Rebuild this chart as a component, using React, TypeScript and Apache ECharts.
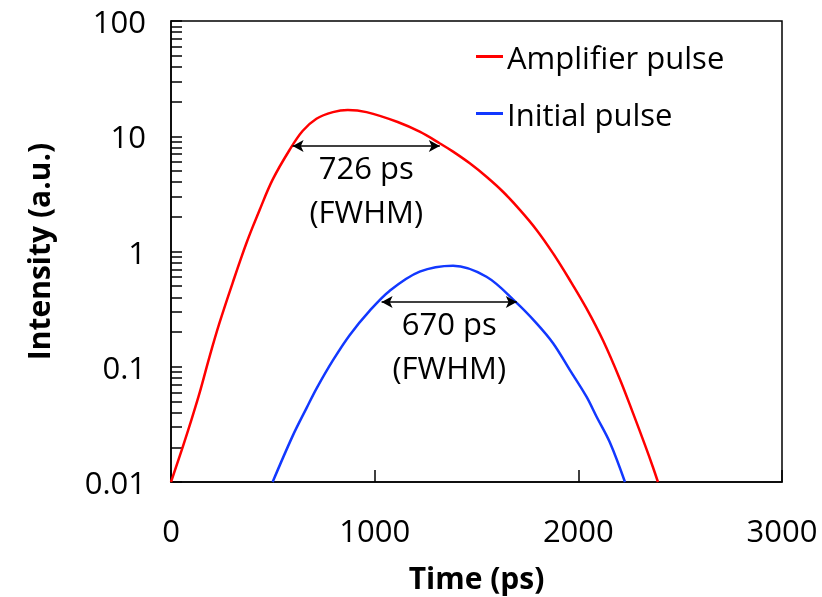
import React, { useEffect, useRef } from "react";
import * as echarts from "echarts";

const ampTime = [0, 57, 101, 140, 189, 238, 302, 371, 435, 499, 582, 646, 714, 795, 868, 960, 1113, 1221, 1319, 1385, 1467, 1549, 1630, 1713, 1795, 1876, 1958, 2040, 2122, 2204, 2269, 2327, 2366, 2391];
const ampIntensity = [0.01, 0.02, 0.035, 0.059, 0.122, 0.24, 0.53, 1.19, 2.29, 4.2, 7.6, 11.1, 14.2, 16.2, 16.9, 16.2, 13.3, 10.95, 8.7, 7.35, 5.82, 4.45, 3.3, 2.3, 1.54, 0.964, 0.566, 0.321, 0.168, 0.078, 0.0394, 0.021, 0.0135, 0.01];

const initTime = [499, 597, 666, 715, 794, 877, 975, 1073, 1221, 1385, 1549, 1696, 1795, 1876, 1958, 2040, 2089, 2155, 2229];
const initIntensity = [0.01, 0.025, 0.044, 0.065, 0.113, 0.188, 0.305, 0.455, 0.668, 0.753, 0.604, 0.36, 0.238, 0.16, 0.094, 0.055, 0.037, 0.022, 0.01];

const seriesNames = ["Amplifier pulse", "Initial pulse"];
const ampFwhm = { start: 597, end: 1320, level: 8.25, label: "726 ps\n(FWHM)" };
const initFwhm = { start: 1034, end: 1698, level: 0.365, label: "670 ps\n(FWHM)" };

const yDecades = [0.01, 0.1, 1, 10, 100];
const yMultipliers = [1, 2, 3, 4, 5, 6, 7, 8, 9];
const xTicks = { min: 0, max: 3000, interval: 1000 };

const FONT = "'Open Sans', sans-serif";
const RED = "#FF0000";
const BLUE = "#1238FF";

function zip(xs: number[], ys: number[]) {
  return xs.map((x, i) => [x, ys[i]]);
}

function fwhmLine(f: { start: number; end: number; level: number; label: string }) {
  return {
    silent: true,
    animation: false,
    symbol: ["arrow", "arrow"],
    symbolSize: [9, 11],
    lineStyle: { color: "#000", width: 1.5, type: "solid" },
    label: {
      show: true,
      position: "insideMiddleBottom",
      formatter: f.label,
      fontFamily: FONT,
      fontSize: 31,
      lineHeight: 44,
      color: "#000",
      distance: -1,
    },
    emphasis: { disabled: true },
    data: [[{ coord: [f.start, f.level] }, { coord: [f.end, f.level] }]],
  };
}

export default function App() {
  const ref = useRef<HTMLDivElement>(null);
  useEffect(() => {
    if (!ref.current) return;
    const chart = echarts.init(ref.current, undefined, { renderer: "svg" });
    const minorTicks: number[] = [];
    yDecades.forEach((d, i) => {
      if (i === yDecades.length - 1) {
        minorTicks.push(d);
      } else {
        yMultipliers.forEach((m) => minorTicks.push(+(d * m).toPrecision(3)));
      }
    });
    chart.setOption({
      animation: false,
      textStyle: { fontFamily: FONT },
      grid: {
        left: 171,
        top: 21,
        width: 611,
        height: 461,
        show: true,
        borderColor: "#000",
        borderWidth: 1.5,
        backgroundColor: "transparent",
        containLabel: false,
        outerBoundsMode: "none",
      },
      legend: {
        orient: "vertical",
        left: 471,
        top: 36,
        itemWidth: 27,
        itemHeight: 3,
        itemGap: 26,
        icon: "rect",
        data: seriesNames,
        textStyle: { fontFamily: FONT, fontSize: 31, color: "#000", padding: [0, 0, 0, -1] },
        selectedMode: false,
      },
      xAxis: {
        type: "value",
        min: xTicks.min,
        max: xTicks.max,
        interval: xTicks.interval,
        name: "Time (ps)",
        nameLocation: "middle",
        nameGap: 80,
        nameTextStyle: { fontFamily: FONT, fontSize: 30, fontWeight: "bold", color: "#000" },
        axisLine: { show: true, lineStyle: { color: "#000", width: 1.5 } },
        axisTick: { show: true, inside: true, length: 12, lineStyle: { color: "#000", width: 1.5 } },
        axisLabel: {
          fontFamily: FONT,
          fontSize: 31,
          color: "#000",
          margin: 32,
          formatter: (v: number) => String(v),
        },
        splitLine: { show: false },
      },
      yAxis: {
        type: "log",
        logBase: 10,
        min: yDecades[0],
        max: yDecades[yDecades.length - 1],
        name: "Intensity (a.u.)",
        nameLocation: "middle",
        nameGap: 118,
        nameTextStyle: { fontFamily: FONT, fontSize: 30, fontWeight: "bold", color: "#000" },
        axisLine: { show: true, lineStyle: { color: "#000", width: 1.5 } },
        axisTick: {
          show: true,
          inside: true,
          length: 11,
          customValues: minorTicks,
          lineStyle: { color: "#000", width: 1.5 },
        },
        axisLabel: {
          fontFamily: FONT,
          fontSize: 31,
          color: "#000",
          margin: 25,
          customValues: yDecades,
          formatter: (v: number) => String(+Number(v).toPrecision(3)),
        },
        splitLine: { show: false },
        minorTick: { show: false },
      },
      series: [
        {
          name: seriesNames[0],
          type: "line",
          data: zip(ampTime, ampIntensity),
          smooth: 0.35,
          symbol: "none",
          showSymbol: false,
          lineStyle: { color: RED, width: 2.5 },
          itemStyle: { color: RED },
          markLine: fwhmLine(ampFwhm),
          z: 3,
        },
        {
          name: seriesNames[1],
          type: "line",
          data: zip(initTime, initIntensity),
          smooth: 0.35,
          symbol: "none",
          showSymbol: false,
          lineStyle: { color: BLUE, width: 2.5 },
          itemStyle: { color: BLUE },
          markLine: fwhmLine(initFwhm),
          z: 3,
        },
      ],
    });
    return () => chart.dispose();
  }, []);
  return <div ref={ref} style={{ position: "fixed", left: 0, top: 0, width: 822, height: 597 }} />;
}
